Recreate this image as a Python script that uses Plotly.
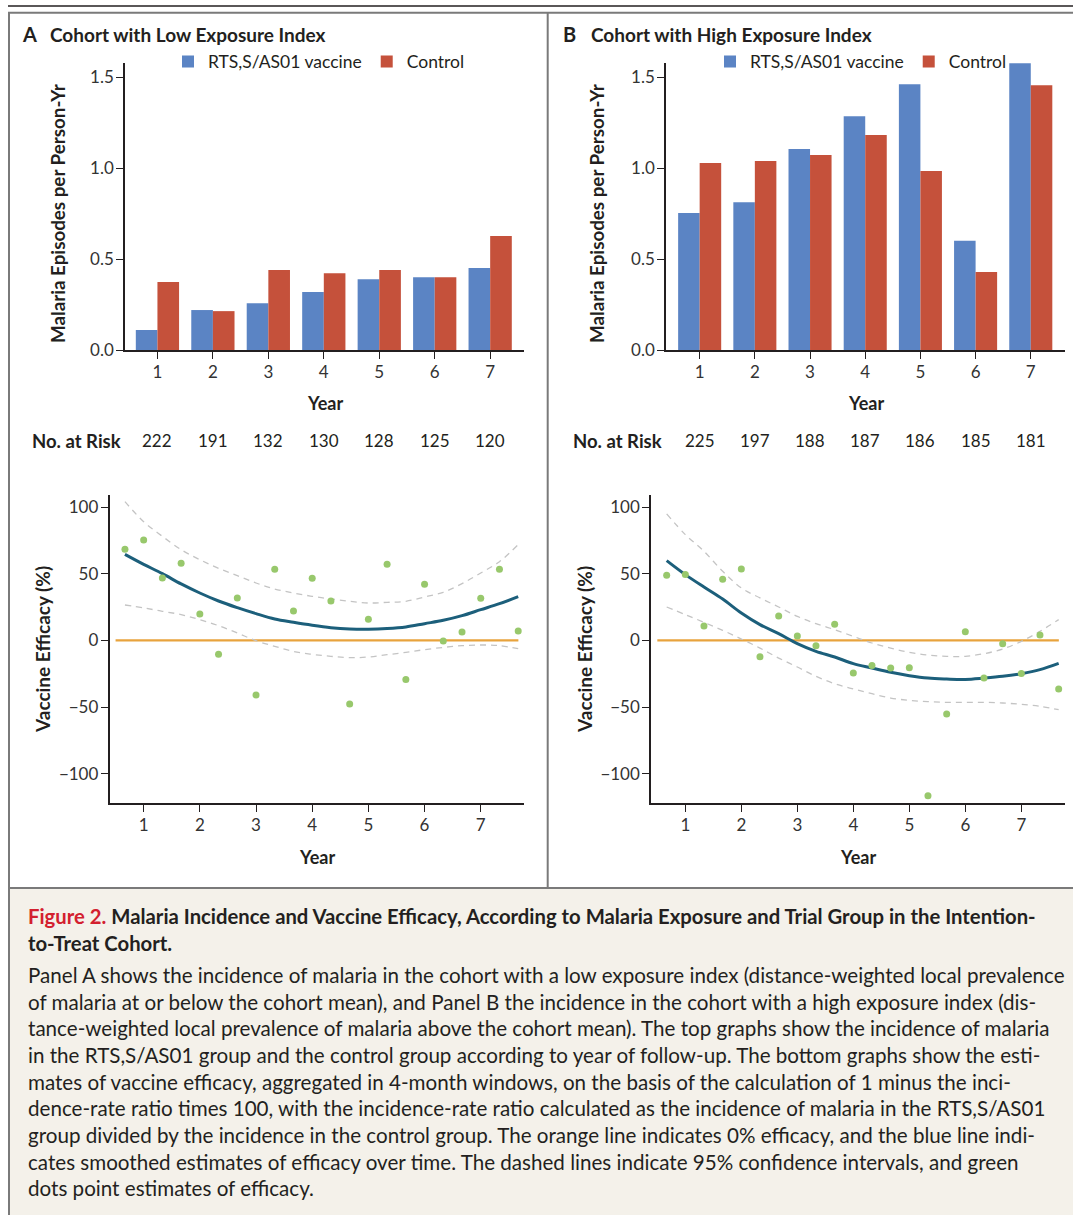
import plotly.graph_objects as go

# ---------------- data ----------------
years = [1, 2, 3, 4, 5, 6, 7]
low_vaccine = [0.110, 0.220, 0.258, 0.319, 0.390, 0.400, 0.451]
low_control = [0.374, 0.214, 0.440, 0.422, 0.440, 0.400, 0.627]
high_vaccine = [0.754, 0.814, 1.106, 1.287, 1.463, 0.601, 1.579]
high_control = [1.029, 1.040, 1.073, 1.183, 0.985, 0.429, 1.458]
low_at_risk = [222, 191, 132, 130, 128, 125, 120]
high_at_risk = [225, 197, 188, 187, 186, 185, 181]

windows = [0.667, 1.0, 1.333, 1.667, 2.0, 2.333, 2.667, 3.0, 3.333, 3.667, 4.0,
           4.333, 4.667, 5.0, 5.333, 5.667, 6.0, 6.333, 6.667, 7.0, 7.333, 7.667]

low_points = [68.3, 75.3, 46.8, 57.8, 19.8, -10.5, 31.8, -41.0, 53.3, 22.0, 46.5,
              29.5, -47.8, 15.8, 57.0, -29.3, 42.0, -0.5, 6.3, 31.5, 53.3, 7.0]
low_smooth = [64.5, 57.0, 50.0, 42.3, 35.5, 29.5, 24.5, 20.0, 16.0, 13.5, 11.3,
              9.5, 8.5, 8.3, 8.8, 10.0, 12.5, 15.0, 18.5, 23.0, 27.5, 32.8]
low_upper = [104.0, 89.0, 78.0, 68.0, 60.5, 54.0, 48.5, 43.0, 38.5, 35.5, 33.0,
             31.0, 29.3, 28.0, 28.5, 29.3, 32.5, 36.0, 42.5, 50.5, 59.0, 71.8]
low_lower = [26.5, 24.3, 21.8, 19.3, 15.5, 11.0, 5.5, -0.3, -4.5, -8.3, -10.5,
             -12.0, -13.0, -12.5, -10.8, -9.0, -7.0, -5.3, -4.0, -3.5, -4.0, -6.3]

high_points = [48.8, 49.3, 10.8, 45.8, 53.5, -12.3, 18.3, 3.3, -4.0, 12.0, -24.5,
               -18.8, -20.8, -20.5, -116.5, -55.3, 6.5, -28.3, -2.5, -24.8, 4.0, -36.5]
high_smooth = [59.8, 49.3, 40.0, 31.0, 20.5, 11.8, 5.0, -2.5, -8.3, -12.5, -17.5,
               -20.8, -24.0, -26.5, -28.3, -29.0, -29.3, -28.3, -27.0, -25.0, -22.0, -17.3]
high_upper = [94.8, 79.3, 66.8, 51.8, 39.3, 31.8, 25.0, 18.0, 12.5, 8.0, 3.0,
              -2.0, -5.8, -9.0, -11.0, -12.0, -12.0, -10.0, -6.5, -0.8, 6.8, 15.5]
high_lower = [25.0, 19.3, 13.5, 7.5, 1.0, -5.8, -13.3, -20.0, -27.0, -32.5, -36.5,
              -40.0, -43.3, -45.0, -46.0, -46.5, -46.5, -46.5, -47.0, -48.0, -49.5, -52.0]

zero_x = [0.5, 7.67]
zero_y = [0, 0]

bar_ticks = [0.0, 0.5, 1.0, 1.5]
eff_ticks = [-100, -50, 0, 50, 100]

# ---------------- style ----------------
W, H = 1073, 1215          # reference pixel grid
FIG_H = 1225               # rendered page height (captured region is scaled to 1215)
FONT = "Lato, 'Open Sans', sans-serif"
CAP_FONT = "Lato, 'Open Sans', sans-serif"
TXT = "#231f20"
BLUE = "#5b84c4"
RED = "#c5513b"
GREEN = "#98c86c"
TEAL = "#1c5f7b"
ORANGE = "#e8a33d"
DASH = "#c4c4c4"
FRAME = "#7a7a7a"


def px(x):
    return x / W


def py(y):
    return 1 - y / H


fig = go.Figure()

# top bar charts
fig.add_trace(go.Bar(x=years, y=low_vaccine, name="RTS,S/AS01 vaccine", marker_color=BLUE,
                     marker_line_width=0, xaxis="x", yaxis="y", legend="legend"))
fig.add_trace(go.Bar(x=years, y=low_control, name="Control", marker_color=RED,
                     marker_line_width=0, xaxis="x", yaxis="y", legend="legend"))
fig.add_trace(go.Bar(x=years, y=high_vaccine, name="RTS,S/AS01 vaccine", marker_color=BLUE,
                     marker_line_width=0, xaxis="x2", yaxis="y2", legend="legend2"))
fig.add_trace(go.Bar(x=years, y=high_control, name="Control", marker_color=RED,
                     marker_line_width=0, xaxis="x2", yaxis="y2", legend="legend2"))


def eff_traces(xa, ya, pts, smooth, up, lo):
    fig.add_trace(go.Scatter(x=zero_x, y=zero_y, mode="lines", line=dict(color=ORANGE, width=2.2),
                             xaxis=xa, yaxis=ya, showlegend=False, hoverinfo="skip"))
    for ci in (up, lo):
        fig.add_trace(go.Scatter(x=windows, y=ci, mode="lines",
                                 line=dict(color=DASH, width=1.3, dash="6px,5px", shape="spline"),
                                 xaxis=xa, yaxis=ya, showlegend=False))
    fig.add_trace(go.Scatter(x=windows, y=smooth, mode="lines",
                             line=dict(color=TEAL, width=3, shape="spline"),
                             xaxis=xa, yaxis=ya, showlegend=False))
    fig.add_trace(go.Scatter(x=windows, y=pts, mode="markers",
                             marker=dict(color=GREEN, size=7),
                             xaxis=xa, yaxis=ya, showlegend=False))


eff_traces("x3", "y3", low_points, low_smooth, low_upper, low_lower)
eff_traces("x4", "y4", high_points, high_smooth, high_upper, high_lower)

axis_common = dict(showline=True, linecolor=TXT, linewidth=1.5, ticks="outside",
                   ticklen=7, tickwidth=1.3, tickcolor=TXT, showgrid=False, zeroline=False,
                   tickfont=dict(family=FONT, size=17, color="#333333"), fixedrange=True)
xcommon = dict(axis_common, ticklabelstandoff=-1)
ycommon = dict(axis_common, ticklabelstandoff=-1)

fig.update_layout(
    width=W, height=FIG_H, autosize=False,
    margin=dict(l=0, r=0, t=0, b=0),
    paper_bgcolor="white", plot_bgcolor="rgba(0,0,0,0)",
    barmode="group", bargap=0.22, bargroupgap=0,
    font=dict(family=FONT, color=TXT),
    xaxis=dict(domain=[px(125), px(524)], range=[0.415, 7.61], tickvals=years,
               anchor="y", **xcommon),
    yaxis=dict(domain=[py(350), py(63)], range=[0, 1.58], tickvals=bar_ticks,
               tickformat=".1f", anchor="x", **ycommon),
    xaxis2=dict(domain=[px(666), px(1065)], range=[0.39, 7.62], tickvals=years,
                anchor="y2", **xcommon),
    yaxis2=dict(domain=[py(350), py(63)], range=[0, 1.58], tickvals=bar_ticks,
                tickformat=".1f", anchor="x2", **ycommon),
    xaxis3=dict(domain=[px(109.5), px(524)], range=[0.392, 7.77], tickvals=years,
                anchor="y3", **xcommon),
    yaxis3=dict(domain=[py(803), py(495)], range=[-122, 109], tickvals=eff_ticks,
                anchor="x3", **ycommon),
    xaxis4=dict(domain=[px(651), px(1065)], range=[0.387, 7.78], tickvals=years,
                anchor="y4", **xcommon),
    yaxis4=dict(domain=[py(803), py(495)], range=[-122, 109], tickvals=eff_ticks,
                anchor="x4", **ycommon),
    legend=dict(orientation="h", x=px(168), y=py(61.5), xanchor="left", yanchor="middle",
                font=dict(family=FONT, size=17.5, color=TXT), bgcolor="rgba(0,0,0,0)",
                traceorder="normal"),
    legend2=dict(orientation="h", x=px(710), y=py(61.5), xanchor="left", yanchor="middle",
                 font=dict(family=FONT, size=17.5, color=TXT), bgcolor="rgba(0,0,0,0)",
                 traceorder="normal"),
)

shapes = [
    dict(type="rect", xref="paper", yref="paper", x0=px(8), x1=1, y0=0, y1=py(888),
         fillcolor="#f4f1ea", line=dict(width=0), layer="below"),
    dict(type="line", xref="paper", yref="paper", x0=px(8), x1=1, y0=py(6), y1=py(6),
         line=dict(color=TXT, width=1.4)),
    dict(type="line", xref="paper", yref="paper", x0=px(8), x1=1, y0=py(12.8), y1=py(12.8),
         line=dict(color=FRAME, width=2)),
    dict(type="line", xref="paper", yref="paper", x0=px(9), x1=px(9), y0=py(12), y1=0,
         line=dict(color=FRAME, width=2)),
    dict(type="line", xref="paper", yref="paper", x0=px(547.7), x1=px(547.7), y0=py(12), y1=py(888),
         line=dict(color=FRAME, width=2)),
    dict(type="line", xref="paper", yref="paper", x0=px(8), x1=1, y0=py(888), y1=py(888),
         line=dict(color=FRAME, width=2)),
]
fig.update_layout(shapes=shapes)

ann = []


def text(x, y, s, size=18, xanchor="left", bold=False, angle=0, color=TXT, family=FONT,
         xref="paper"):
    ann.append(dict(x=x if xref != "paper" else px(x), y=py(y), xref=xref, yref="paper",
                    text=f"<b>{s}</b>" if bold else s, showarrow=False, xanchor=xanchor,
                    yanchor="middle", textangle=angle,
                    font=dict(family=family, size=size, color=color)))


# panel titles
text(20, 34, "A", size=20, bold=True)
text(48, 34, "Cohort with Low Exposure Index", size=19, bold=True)
text(561, 34, "B", size=20, bold=True)
text(589, 34, "Cohort with High Exposure Index", size=19, bold=True)

# axis titles
text(57, 214, "Malaria Episodes per Person-Yr", size=18.8, bold=True, angle=-90, xanchor="center")
text(596, 214, "Malaria Episodes per Person-Yr", size=18.8, bold=True, angle=-90, xanchor="center")
text(325, 403, "Year", size=18, bold=True, xanchor="center")
text(866, 403, "Year", size=18, bold=True, xanchor="center")
text(42, 650, "Vaccine Efficacy (%)", size=19, bold=True, angle=-90, xanchor="center")
text(584, 650, "Vaccine Efficacy (%)", size=19, bold=True, angle=-90, xanchor="center")
text(317, 857, "Year", size=18, bold=True, xanchor="center")
text(858, 857, "Year", size=18, bold=True, xanchor="center")

# number at risk
text(30, 441, "No. at Risk", size=18.5, bold=True)
text(571, 441, "No. at Risk", size=18.5, bold=True)
for yr, n in zip(years, low_at_risk):
    text(yr, 441, str(n), size=17, xanchor="center", xref="x")
for yr, n in zip(years, high_at_risk):
    text(yr, 441, str(n), size=17, xanchor="center", xref="x2")

# caption
cap_title = [
    "<span style='color:#d3202f'>Figure 2.</span> Malaria Incidence and Vaccine Efficacy, "
    "According to Malaria Exposure and Trial Group in the Intention-",
    "to-Treat Cohort.",
]
cap_body = [
    "Panel A shows the incidence of malaria in the cohort with a low exposure index (distance-weighted local prevalence",
    "of malaria at or below the cohort mean), and Panel B the incidence in the cohort with a high exposure index (dis-",
    "tance-weighted local prevalence of malaria above the cohort mean). The top graphs show the incidence of malaria",
    "in the RTS,S/AS01 group and the control group according to year of follow-up. The bottom graphs show the esti-",
    "mates of vaccine efficacy, aggregated in 4-month windows, on the basis of the calculation of 1 minus the inci-",
    "dence-rate ratio times 100, with the incidence-rate ratio calculated as the incidence of malaria in the RTS,S/AS01",
    "group divided by the incidence in the control group. The orange line indicates 0% efficacy, and the blue line indi-",
    "cates smoothed estimates of efficacy over time. The dashed lines indicate 95% confidence intervals, and green",
    "dots point estimates of efficacy.",
]
for s, y in zip(cap_title, [915.7, 943.3]):
    text(26, y, s, size=20.3, bold=True, family=CAP_FONT)
for i, s in enumerate(cap_body):
    text(26, 975 + i * 26.65, s, size=20.6, family=CAP_FONT)

fig.update_layout(annotations=ann)

fig.write_html("out.html", config={"displayModeBar": False},
               post_script="document.body.style.margin='0px';document.body.style.overflow='hidden';")
